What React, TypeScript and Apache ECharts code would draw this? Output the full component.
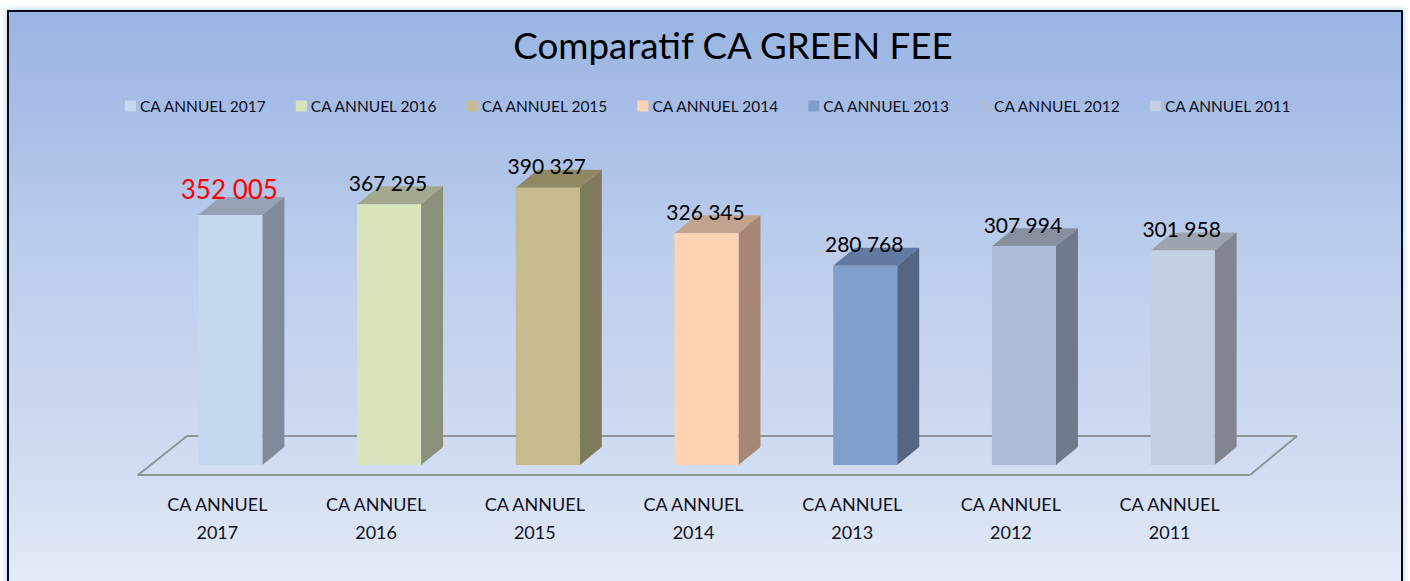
import React, { useEffect, useRef } from "react";
import * as echarts from "echarts";

const categories = ["CA ANNUEL 2017", "CA ANNUEL 2016", "CA ANNUEL 2015", "CA ANNUEL 2014", "CA ANNUEL 2013", "CA ANNUEL 2012", "CA ANNUEL 2011"];
const axisLabels = ["CA ANNUEL\n2017", "CA ANNUEL\n2016", "CA ANNUEL\n2015", "CA ANNUEL\n2014", "CA ANNUEL\n2013", "CA ANNUEL\n2012", "CA ANNUEL\n2011"];
const values = [352005, 367295, 390327, 326345, 280768, 307994, 301958];
const frontColors = ["#C6D7F0", "#D8E5BC", "#C5BB8F", "#FDD3B4", "#829FCB", "#AEBCDA", "#C4CFE2"];
const sideColors = ["#7F8B9C", "#8A917A", "#7E7A5B", "#A58773", "#546682", "#6F7A8D", "#81858F"];
const topColors = ["#95A2B4", "#A2A98F", "#908763", "#C2A38D", "#627AA0", "#87909F", "#9DA3AE"];
const FONT = "Lato, Carlito, 'Open Sans', sans-serif";
const DEPTH_X = 22;
const DEPTH_Y = 18;
const BAR_W = 64;

const fmt = (v: number) => {
  const s = String(v);
  return s.slice(0, s.length - 3) + " " + s.slice(-3);
};

export default function App() {
  const ref = useRef<HTMLDivElement>(null);
  useEffect(() => {
    if (!ref.current) return;
    const chart = echarts.init(ref.current, undefined, { renderer: "svg" });
    const lineStyle = { stroke: "#8E9598", lineWidth: 2 };
    chart.setOption({
      animation: false,
      backgroundColor: "transparent",
      title: {
        text: "Comparatif CA GREEN FEE",
        left: 728,
        top: 21,
        textAlign: "center",
        textStyle: { fontFamily: FONT, fontSize: 36.7, fontWeight: "normal", color: "#000" },
      },
      legend: {
        left: 120,
        top: 93,
        itemWidth: 11,
        itemHeight: 11,
        itemGap: 28.6,
        icon: "rect",
        data: categories,
        textStyle: { fontFamily: FONT, fontSize: 15.5, color: "#10101e", padding: [0, 0, 0, -1] },
      },
      graphic: [
        { type: "line", z: 0, shape: { x1: 138, y1: 475, x2: 187, y2: 436 }, style: lineStyle, silent: true },
        { type: "line", z: 0, shape: { x1: 187, y1: 436, x2: 1297, y2: 436 }, style: lineStyle, silent: true },
        { type: "line", z: 0, shape: { x1: 1297, y1: 436, x2: 1250, y2: 475 }, style: lineStyle, silent: true },
      ],
      grid: [
        { left: 151, top: 181, width: 1111, height: 284 },
        { left: 138, top: 181, width: 1111, height: 294 },
      ],
      xAxis: [
        { type: "category", gridIndex: 0, data: categories, show: false },
        {
          type: "category",
          gridIndex: 1,
          data: axisLabels,
          axisTick: { show: false },
          axisLine: { lineStyle: { color: "#8E9598", width: 2 } },
          axisLabel: { fontFamily: FONT, fontSize: 18, color: "#10101e", lineHeight: 28, margin: 15, interval: 0 },
        },
      ],
      yAxis: [
        { type: "value", gridIndex: 0, min: 0, max: 400000, show: false },
        { type: "value", gridIndex: 1, min: 0, max: 400000, show: false },
      ],
      series: categories.map((name, i) => ({
        type: "custom",
        name,
        xAxisIndex: 0,
        yAxisIndex: 0,
        itemStyle: { color: frontColors[i] },
        data: [[i, values[i]]],
        encode: { x: 0, y: 1 },
        renderItem: (_p: any, api: any) => {
          const top = api.coord([api.value(0), api.value(1)]);
          const base = api.coord([api.value(0), 0]);
          const l = top[0] - BAR_W / 2;
          const r = top[0] + BAR_W / 2;
          const first = i === 0;
          return {
            type: "group",
            children: [
              {
                type: "polygon",
                shape: { points: [[l, top[1]], [r, top[1]], [r + DEPTH_X, top[1] - DEPTH_Y], [l + DEPTH_X, top[1] - DEPTH_Y]] },
                style: { fill: topColors[i] },
              },
              {
                type: "polygon",
                shape: { points: [[r, top[1]], [r + DEPTH_X, top[1] - DEPTH_Y], [r + DEPTH_X, base[1] - DEPTH_Y], [r, base[1]]] },
                style: { fill: sideColors[i] },
              },
              {
                type: "rect",
                shape: { x: l, y: top[1], width: BAR_W, height: base[1] - top[1] },
                style: { fill: frontColors[i] },
              },
              {
                type: "text",
                style: {
                  text: fmt(api.value(1)),
                  x: top[0] - 1,
                  y: top[1] - (first ? 26 : 22),
                  align: "center",
                  verticalAlign: "middle",
                  fontFamily: FONT,
                  fontSize: first ? 26 : 21,
                  fill: first ? "#FF0000" : "#000000",
                },
              },
            ],
          };
        },
      })),
    });
    return () => chart.dispose();
  }, []);
  return (
    <div style={{ position: "fixed", left: 0, top: 0, width: 1410, height: 581, overflow: "hidden", background: "#fff" }}>
      <div
        style={{
          position: "absolute",
          left: 7,
          top: 10,
          width: 1392,
          height: 620,
          border: "2px solid #0b0b18",
          boxShadow: "0 0 6px 1px #bcd6f2",
          background:
            "linear-gradient(180deg, #9AB5E3 0%, #A8BFE7 18%, #BCCDEC 38%, #CBD7F1 62%, #D3DEF1 76%, #E3ECF7 93%, #E6EEF8 100%)",
        }}
      />
      <div ref={ref} style={{ position: "absolute", left: 0, top: 0, width: 1410, height: 581 }} />
    </div>
  );
}
